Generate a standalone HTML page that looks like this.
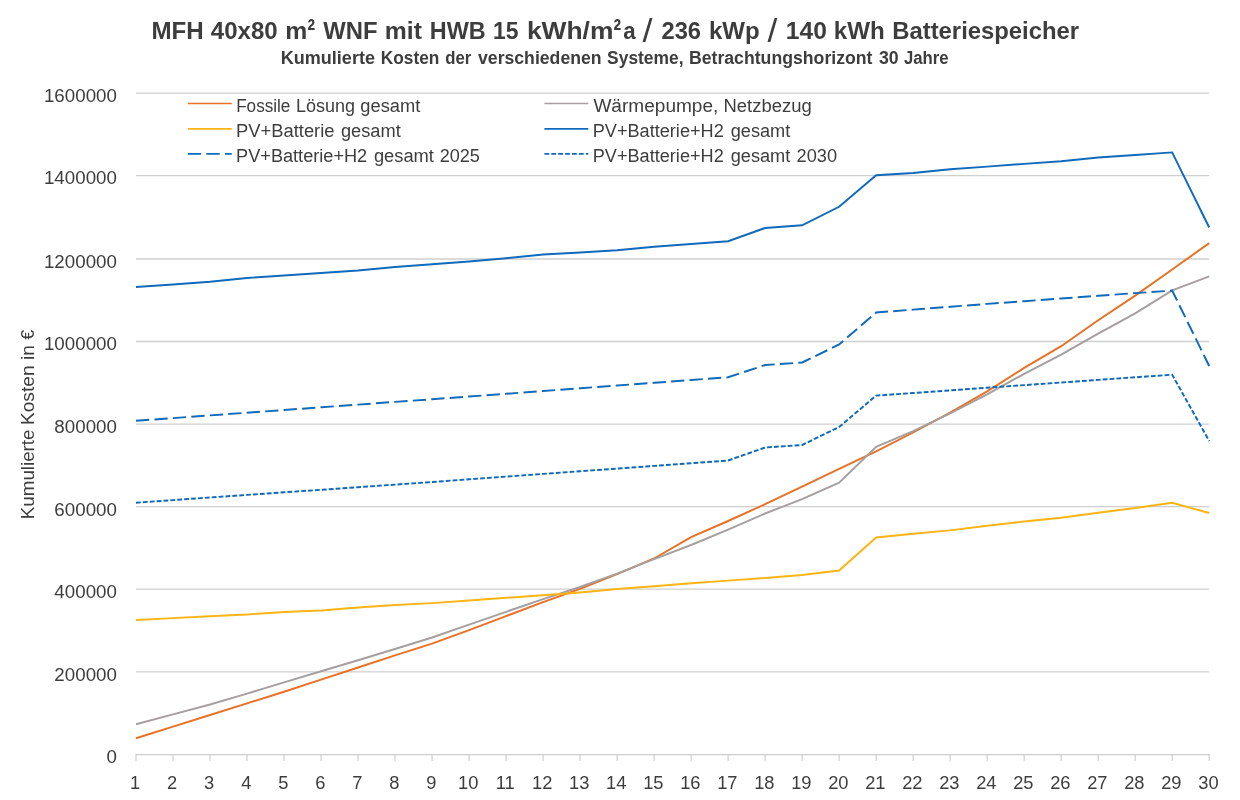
<!DOCTYPE html>
<html lang="de"><head><meta charset="utf-8"><title>MFH 40x80 m² WNF – Kumulierte Kosten</title>
<style>html,body{margin:0;padding:0;background:#fff}body{width:1240px;height:800px;overflow:hidden}svg{display:block}text{font-family:"Liberation Sans",sans-serif;fill:#3d3d3d}</style></head><body>
<svg width="1240" height="800" viewBox="0 0 1240 800">
<rect width="1240" height="800" fill="#fff"/>
<line x1="136" x2="1209.2" y1="671.85" y2="671.85" stroke="#cfcfcf" stroke-width="1.33"/>
<line x1="136" x2="1209.2" y1="589.15" y2="589.15" stroke="#cfcfcf" stroke-width="1.33"/>
<line x1="136" x2="1209.2" y1="506.70" y2="506.70" stroke="#cfcfcf" stroke-width="1.33"/>
<line x1="136" x2="1209.2" y1="424.10" y2="424.10" stroke="#cfcfcf" stroke-width="1.33"/>
<line x1="136" x2="1209.2" y1="341.50" y2="341.50" stroke="#cfcfcf" stroke-width="1.33"/>
<line x1="136" x2="1209.2" y1="259.00" y2="259.00" stroke="#cfcfcf" stroke-width="1.33"/>
<line x1="136" x2="1209.2" y1="175.60" y2="175.60" stroke="#cfcfcf" stroke-width="1.33"/>
<line x1="136" x2="1209.2" y1="93.10" y2="93.10" stroke="#cfcfcf" stroke-width="1.33"/>
<line x1="135.5" x2="1209.8" y1="754.60" y2="754.60" stroke="#cdcdcd" stroke-width="1.33"/>
<line x1="136.00" x2="136.00" y1="754.60" y2="761.10" stroke="#d0d0d0" stroke-width="1.25"/>
<line x1="173.01" x2="173.01" y1="754.60" y2="761.10" stroke="#d0d0d0" stroke-width="1.25"/>
<line x1="210.01" x2="210.01" y1="754.60" y2="761.10" stroke="#d0d0d0" stroke-width="1.25"/>
<line x1="247.02" x2="247.02" y1="754.60" y2="761.10" stroke="#d0d0d0" stroke-width="1.25"/>
<line x1="284.03" x2="284.03" y1="754.60" y2="761.10" stroke="#d0d0d0" stroke-width="1.25"/>
<line x1="321.03" x2="321.03" y1="754.60" y2="761.10" stroke="#d0d0d0" stroke-width="1.25"/>
<line x1="358.04" x2="358.04" y1="754.60" y2="761.10" stroke="#d0d0d0" stroke-width="1.25"/>
<line x1="395.05" x2="395.05" y1="754.60" y2="761.10" stroke="#d0d0d0" stroke-width="1.25"/>
<line x1="432.06" x2="432.06" y1="754.60" y2="761.10" stroke="#d0d0d0" stroke-width="1.25"/>
<line x1="469.06" x2="469.06" y1="754.60" y2="761.10" stroke="#d0d0d0" stroke-width="1.25"/>
<line x1="506.07" x2="506.07" y1="754.60" y2="761.10" stroke="#d0d0d0" stroke-width="1.25"/>
<line x1="543.08" x2="543.08" y1="754.60" y2="761.10" stroke="#d0d0d0" stroke-width="1.25"/>
<line x1="580.08" x2="580.08" y1="754.60" y2="761.10" stroke="#d0d0d0" stroke-width="1.25"/>
<line x1="617.09" x2="617.09" y1="754.60" y2="761.10" stroke="#d0d0d0" stroke-width="1.25"/>
<line x1="654.10" x2="654.10" y1="754.60" y2="761.10" stroke="#d0d0d0" stroke-width="1.25"/>
<line x1="691.10" x2="691.10" y1="754.60" y2="761.10" stroke="#d0d0d0" stroke-width="1.25"/>
<line x1="728.11" x2="728.11" y1="754.60" y2="761.10" stroke="#d0d0d0" stroke-width="1.25"/>
<line x1="765.12" x2="765.12" y1="754.60" y2="761.10" stroke="#d0d0d0" stroke-width="1.25"/>
<line x1="802.12" x2="802.12" y1="754.60" y2="761.10" stroke="#d0d0d0" stroke-width="1.25"/>
<line x1="839.13" x2="839.13" y1="754.60" y2="761.10" stroke="#d0d0d0" stroke-width="1.25"/>
<line x1="876.14" x2="876.14" y1="754.60" y2="761.10" stroke="#d0d0d0" stroke-width="1.25"/>
<line x1="913.14" x2="913.14" y1="754.60" y2="761.10" stroke="#d0d0d0" stroke-width="1.25"/>
<line x1="950.15" x2="950.15" y1="754.60" y2="761.10" stroke="#d0d0d0" stroke-width="1.25"/>
<line x1="987.16" x2="987.16" y1="754.60" y2="761.10" stroke="#d0d0d0" stroke-width="1.25"/>
<line x1="1024.17" x2="1024.17" y1="754.60" y2="761.10" stroke="#d0d0d0" stroke-width="1.25"/>
<line x1="1061.17" x2="1061.17" y1="754.60" y2="761.10" stroke="#d0d0d0" stroke-width="1.25"/>
<line x1="1098.18" x2="1098.18" y1="754.60" y2="761.10" stroke="#d0d0d0" stroke-width="1.25"/>
<line x1="1135.19" x2="1135.19" y1="754.60" y2="761.10" stroke="#d0d0d0" stroke-width="1.25"/>
<line x1="1172.19" x2="1172.19" y1="754.60" y2="761.10" stroke="#d0d0d0" stroke-width="1.25"/>
<line x1="1209.20" x2="1209.20" y1="754.60" y2="761.10" stroke="#d0d0d0" stroke-width="1.25"/>
<text x="106.48" y="763.45" font-size="18.3" textLength="10.42" lengthAdjust="spacingAndGlyphs">0</text>
<text x="54.38" y="680.70" font-size="18.3" textLength="62.52" lengthAdjust="spacingAndGlyphs">200000</text>
<text x="54.38" y="598.00" font-size="18.3" textLength="62.52" lengthAdjust="spacingAndGlyphs">400000</text>
<text x="54.38" y="515.55" font-size="18.3" textLength="62.52" lengthAdjust="spacingAndGlyphs">600000</text>
<text x="54.38" y="432.95" font-size="18.3" textLength="62.52" lengthAdjust="spacingAndGlyphs">800000</text>
<text x="43.96" y="350.35" font-size="18.3" textLength="72.94" lengthAdjust="spacingAndGlyphs">1000000</text>
<text x="43.96" y="267.85" font-size="18.3" textLength="72.94" lengthAdjust="spacingAndGlyphs">1200000</text>
<text x="43.96" y="184.45" font-size="18.3" textLength="72.94" lengthAdjust="spacingAndGlyphs">1400000</text>
<text x="43.96" y="101.95" font-size="18.3" textLength="72.94" lengthAdjust="spacingAndGlyphs">1600000</text>
<text x="135.20" y="788.7" font-size="18.3" text-anchor="middle">1</text>
<text x="172.21" y="788.7" font-size="18.3" text-anchor="middle">2</text>
<text x="209.21" y="788.7" font-size="18.3" text-anchor="middle">3</text>
<text x="246.22" y="788.7" font-size="18.3" text-anchor="middle">4</text>
<text x="283.23" y="788.7" font-size="18.3" text-anchor="middle">5</text>
<text x="320.23" y="788.7" font-size="18.3" text-anchor="middle">6</text>
<text x="357.24" y="788.7" font-size="18.3" text-anchor="middle">7</text>
<text x="394.25" y="788.7" font-size="18.3" text-anchor="middle">8</text>
<text x="431.26" y="788.7" font-size="18.3" text-anchor="middle">9</text>
<text x="468.26" y="788.7" font-size="18.3" text-anchor="middle">10</text>
<text x="505.27" y="788.7" font-size="18.3" text-anchor="middle">11</text>
<text x="542.28" y="788.7" font-size="18.3" text-anchor="middle">12</text>
<text x="579.28" y="788.7" font-size="18.3" text-anchor="middle">13</text>
<text x="616.29" y="788.7" font-size="18.3" text-anchor="middle">14</text>
<text x="653.30" y="788.7" font-size="18.3" text-anchor="middle">15</text>
<text x="690.30" y="788.7" font-size="18.3" text-anchor="middle">16</text>
<text x="727.31" y="788.7" font-size="18.3" text-anchor="middle">17</text>
<text x="764.32" y="788.7" font-size="18.3" text-anchor="middle">18</text>
<text x="801.32" y="788.7" font-size="18.3" text-anchor="middle">19</text>
<text x="838.33" y="788.7" font-size="18.3" text-anchor="middle">20</text>
<text x="875.34" y="788.7" font-size="18.3" text-anchor="middle">21</text>
<text x="912.34" y="788.7" font-size="18.3" text-anchor="middle">22</text>
<text x="949.35" y="788.7" font-size="18.3" text-anchor="middle">23</text>
<text x="986.36" y="788.7" font-size="18.3" text-anchor="middle">24</text>
<text x="1023.37" y="788.7" font-size="18.3" text-anchor="middle">25</text>
<text x="1060.37" y="788.7" font-size="18.3" text-anchor="middle">26</text>
<text x="1097.38" y="788.7" font-size="18.3" text-anchor="middle">27</text>
<text x="1134.39" y="788.7" font-size="18.3" text-anchor="middle">28</text>
<text x="1171.39" y="788.7" font-size="18.3" text-anchor="middle">29</text>
<text x="1208.40" y="788.7" font-size="18.3" text-anchor="middle">30</text>
<polyline points="136.00,738.25 173.01,726.60 210.01,715.00 247.02,703.40 284.03,691.75 321.03,679.60 358.04,667.50 395.05,655.40 432.06,643.60 469.06,630.10 506.07,616.10 543.08,602.20 580.08,588.80 617.09,574.20 654.10,558.50 691.10,537.10 728.11,521.00 765.12,504.20 802.12,486.70 839.13,468.80 876.14,451.30 913.14,432.50 950.15,412.60 987.16,391.30 1024.17,367.90 1061.17,346.20 1098.18,320.30 1135.19,295.60 1172.19,269.50 1209.20,243.10" fill="none" stroke="#ea7024" stroke-width="1.95" stroke-linejoin="miter" stroke-linecap="butt"/>
<polyline points="136.00,724.25 173.01,714.40 210.01,704.50 247.02,693.60 284.03,682.40 321.03,671.20 358.04,660.20 395.05,649.00 432.06,637.50 469.06,624.60 506.07,611.80 543.08,599.10 580.08,587.00 617.09,573.60 654.10,559.20 691.10,545.00 728.11,529.70 765.12,513.50 802.12,499.10 839.13,482.60 876.14,446.80 913.14,431.20 950.15,413.50 987.16,394.30 1024.17,373.80 1061.17,354.60 1098.18,333.70 1135.19,313.40 1172.19,290.30 1209.20,276.40" fill="none" stroke="#a59f9f" stroke-width="1.95" stroke-linejoin="miter" stroke-linecap="butt"/>
<polyline points="136.00,620.00 173.01,618.10 210.01,616.25 247.02,614.50 284.03,612.00 321.03,610.50 358.04,607.50 395.05,605.00 432.06,603.10 469.06,600.50 506.07,597.80 543.08,595.20 580.08,592.50 617.09,589.00 654.10,586.20 691.10,583.30 728.11,580.60 765.12,578.00 802.12,575.00 839.13,570.50 876.14,537.50 913.14,533.75 950.15,530.40 987.16,525.75 1024.17,521.50 1061.17,517.75 1098.18,512.75 1135.19,508.00 1172.19,502.75 1209.20,513.00" fill="none" stroke="#fdb414" stroke-width="1.95" stroke-linejoin="miter" stroke-linecap="butt"/>
<polyline points="136.00,287.00 173.01,284.50 210.01,281.75 247.02,278.00 284.03,275.50 321.03,273.00 358.04,270.50 395.05,267.00 432.06,264.25 469.06,261.50 506.07,258.25 543.08,254.50 580.08,252.50 617.09,250.25 654.10,246.75 691.10,244.00 728.11,241.25 765.12,228.00 802.12,225.25 839.13,206.75 876.14,175.25 913.14,173.00 950.15,169.25 987.16,166.60 1024.17,163.90 1061.17,161.25 1098.18,157.50 1135.19,155.00 1172.19,152.40 1209.20,227.50" fill="none" stroke="#0f6abc" stroke-width="1.95" stroke-linejoin="miter" stroke-linecap="butt"/>
<polyline points="136.00,420.80 173.01,418.10 210.01,415.40 247.02,412.70 284.03,410.00 321.03,407.30 358.04,404.60 395.05,401.90 432.06,399.25 469.06,396.50 506.07,393.80 543.08,391.00 580.08,388.30 617.09,385.50 654.10,382.80 691.10,380.00 728.11,377.30 765.12,365.00 802.12,362.50 839.13,344.50 876.14,312.50 913.14,309.60 950.15,306.80 987.16,303.90 1024.17,301.20 1061.17,298.50 1098.18,295.80 1135.19,293.10 1172.19,290.60 1209.20,366.00" fill="none" stroke="#0f6abc" stroke-width="1.95" stroke-linejoin="miter" stroke-linecap="butt" stroke-dasharray="13.3 5.2"/>
<polyline points="136.00,502.70 173.01,500.10 210.01,497.50 247.02,494.90 284.03,492.30 321.03,489.80 358.04,487.20 395.05,484.60 432.06,482.00 469.06,479.30 506.07,476.60 543.08,473.90 580.08,471.20 617.09,468.60 654.10,465.90 691.10,463.20 728.11,460.50 765.12,447.50 802.12,445.00 839.13,427.00 876.14,395.60 913.14,393.00 950.15,390.40 987.16,387.70 1024.17,385.10 1061.17,382.50 1098.18,379.90 1135.19,377.30 1172.19,374.70 1209.20,441.00" fill="none" stroke="#0f6abc" stroke-width="1.95" stroke-linejoin="miter" stroke-linecap="butt" stroke-dasharray="4.8 2.1"/>
<text><tspan x="151.50" y="38.7" font-size="24.0" font-weight="bold" textLength="52.24" lengthAdjust="spacingAndGlyphs">MFH</tspan> <tspan x="210.80" y="38.7" font-size="24.0" font-weight="bold" textLength="66.85" lengthAdjust="spacingAndGlyphs">40x80</tspan> <tspan x="285.17" y="38.7" font-size="24.0" font-weight="bold" textLength="22.01" lengthAdjust="spacingAndGlyphs">m</tspan><tspan x="307.50" y="39.5" font-size="30.0" font-weight="bold" textLength="7.59" lengthAdjust="spacingAndGlyphs">²</tspan> <tspan x="323.20" y="38.7" font-size="24.0" font-weight="bold" textLength="54.26" lengthAdjust="spacingAndGlyphs">WNF</tspan> <tspan x="384.77" y="38.7" font-size="24.0" font-weight="bold" textLength="37.12" lengthAdjust="spacingAndGlyphs">mit</tspan> <tspan x="429.82" y="38.7" font-size="24.0" font-weight="bold" textLength="55.90" lengthAdjust="spacingAndGlyphs">HWB</tspan> <tspan x="493.05" y="38.7" font-size="24.0" font-weight="bold" textLength="25.49" lengthAdjust="spacingAndGlyphs">15</tspan> <tspan x="526.90" y="38.7" font-size="24.0" font-weight="bold" textLength="86.47" lengthAdjust="spacingAndGlyphs">kWh/m</tspan><tspan x="613.40" y="39.5" font-size="30.0" font-weight="bold" textLength="7.59" lengthAdjust="spacingAndGlyphs">²</tspan><tspan x="623.20" y="38.7" font-size="24.0" font-weight="bold" textLength="12.41" lengthAdjust="spacingAndGlyphs">a</tspan> <tspan x="642.60" y="41.9" font-size="32.5" font-weight="normal" textLength="10.02" lengthAdjust="spacingAndGlyphs">/</tspan> <tspan x="661.50" y="38.7" font-size="24.0" font-weight="bold" textLength="39.54" lengthAdjust="spacingAndGlyphs">236</tspan> <tspan x="709.00" y="38.7" font-size="24.0" font-weight="bold" textLength="50.66" lengthAdjust="spacingAndGlyphs">kWp</tspan> <tspan x="767.40" y="41.9" font-size="32.5" font-weight="normal" textLength="9.84" lengthAdjust="spacingAndGlyphs">/</tspan> <tspan x="785.77" y="38.7" font-size="24.0" font-weight="bold" textLength="41.08" lengthAdjust="spacingAndGlyphs">140</tspan> <tspan x="833.89" y="38.7" font-size="24.0" font-weight="bold" textLength="50.97" lengthAdjust="spacingAndGlyphs">kWh</tspan> <tspan x="892.21" y="38.7" font-size="24.0" font-weight="bold" textLength="186.93" lengthAdjust="spacingAndGlyphs">Batteriespeicher</tspan></text>
<text><tspan x="280.70" y="64.0" font-size="18.0" font-weight="bold" textLength="94.31" lengthAdjust="spacingAndGlyphs">Kumulierte</tspan> <tspan x="380.74" y="64.0" font-size="18.0" font-weight="bold" textLength="58.72" lengthAdjust="spacingAndGlyphs">Kosten</tspan> <tspan x="445.30" y="64.0" font-size="18.0" font-weight="bold" textLength="26.05" lengthAdjust="spacingAndGlyphs">der</tspan> <tspan x="478.00" y="64.0" font-size="18.0" font-weight="bold" textLength="123.58" lengthAdjust="spacingAndGlyphs">verschiedenen</tspan> <tspan x="607.10" y="64.0" font-size="18.0" font-weight="bold" textLength="76.47" lengthAdjust="spacingAndGlyphs">Systeme,</tspan> <tspan x="688.92" y="64.0" font-size="18.0" font-weight="bold" textLength="183.58" lengthAdjust="spacingAndGlyphs">Betrachtungshorizont</tspan> <tspan x="879.00" y="64.0" font-size="18.0" font-weight="bold" textLength="19.71" lengthAdjust="spacingAndGlyphs">30</tspan> <tspan x="903.90" y="64.0" font-size="18.0" font-weight="bold" textLength="44.67" lengthAdjust="spacingAndGlyphs">Jahre</tspan></text>
<text><tspan x="236.15" y="111.6" font-size="18.0" font-weight="normal" textLength="54.26" lengthAdjust="spacingAndGlyphs">Fossile</tspan> <tspan x="296.10" y="111.6" font-size="18.0" font-weight="normal" textLength="59.01" lengthAdjust="spacingAndGlyphs">Lösung</tspan> <tspan x="360.30" y="111.6" font-size="18.0" font-weight="normal" textLength="60.00" lengthAdjust="spacingAndGlyphs">gesamt</tspan></text>
<text><tspan x="236.08" y="136.5" font-size="18.0" font-weight="normal" textLength="98.43" lengthAdjust="spacingAndGlyphs">PV+Batterie</tspan> <tspan x="341.00" y="136.5" font-size="18.0" font-weight="normal" textLength="59.70" lengthAdjust="spacingAndGlyphs">gesamt</tspan></text>
<text><tspan x="236.09" y="161.7" font-size="18.0" font-weight="normal" textLength="131.12" lengthAdjust="spacingAndGlyphs">PV+Batterie+H2</tspan> <tspan x="373.90" y="161.7" font-size="18.0" font-weight="normal" textLength="60.00" lengthAdjust="spacingAndGlyphs">gesamt</tspan> <tspan x="439.70" y="161.7" font-size="18.0" font-weight="normal" textLength="40.21" lengthAdjust="spacingAndGlyphs">2025</tspan></text>
<text><tspan x="593.40" y="111.6" font-size="18.0" font-weight="normal" textLength="124.96" lengthAdjust="spacingAndGlyphs">Wärmepumpe,</tspan> <tspan x="723.47" y="111.6" font-size="18.0" font-weight="normal" textLength="88.26" lengthAdjust="spacingAndGlyphs">Netzbezug</tspan></text>
<text><tspan x="592.79" y="136.5" font-size="18.0" font-weight="normal" textLength="130.92" lengthAdjust="spacingAndGlyphs">PV+Batterie+H2</tspan> <tspan x="730.70" y="136.5" font-size="18.0" font-weight="normal" textLength="59.60" lengthAdjust="spacingAndGlyphs">gesamt</tspan></text>
<text><tspan x="592.79" y="161.7" font-size="18.0" font-weight="normal" textLength="130.92" lengthAdjust="spacingAndGlyphs">PV+Batterie+H2</tspan> <tspan x="730.70" y="161.7" font-size="18.0" font-weight="normal" textLength="59.60" lengthAdjust="spacingAndGlyphs">gesamt</tspan> <tspan x="796.50" y="161.7" font-size="18.0" font-weight="normal" textLength="40.51" lengthAdjust="spacingAndGlyphs">2030</tspan></text>
<text transform="translate(34,520) rotate(-90)"><tspan x="0.86" y="0.0" font-size="18.0" font-weight="normal" textLength="89.65" lengthAdjust="spacingAndGlyphs">Kumulierte</tspan> <tspan x="94.94" y="0.0" font-size="18.0" font-weight="normal" textLength="59.64" lengthAdjust="spacingAndGlyphs">Kosten</tspan> <tspan x="160.05" y="0.0" font-size="18.0" font-weight="normal" textLength="14.77" lengthAdjust="spacingAndGlyphs">in</tspan> <tspan x="180.30" y="0.0" font-size="18.0" font-weight="normal" textLength="10.01" lengthAdjust="spacingAndGlyphs">€</tspan></text>
<line x1="187.9" x2="231.8" y1="103.5" y2="103.5" stroke="#ea7024" stroke-width="1.7" stroke-linecap="butt"/>
<line x1="187.9" x2="231.8" y1="128.8" y2="128.8" stroke="#fdb414" stroke-width="1.7" stroke-linecap="butt"/>
<line x1="187.9" x2="231.8" y1="153.8" y2="153.8" stroke="#0f6abc" stroke-width="1.7" stroke-linecap="butt" stroke-dasharray="13.3 5.2"/>
<line x1="544.4" x2="588.3" y1="103.5" y2="103.5" stroke="#a59f9f" stroke-width="1.7" stroke-linecap="butt"/>
<line x1="544.4" x2="588.3" y1="128.8" y2="128.8" stroke="#0f6abc" stroke-width="1.7" stroke-linecap="butt"/>
<line x1="544.4" x2="588.3" y1="153.8" y2="153.8" stroke="#0f6abc" stroke-width="1.7" stroke-linecap="butt" stroke-dasharray="4.8 2.1"/>
</svg></body></html>
